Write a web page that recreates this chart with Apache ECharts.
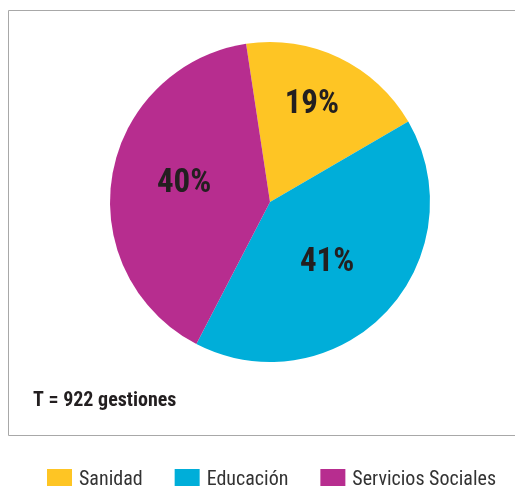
<!DOCTYPE html>
<html><head><meta charset="utf-8">
<script src="https://cdn.jsdelivr.net/npm/echarts@6/dist/echarts.min.js"></script>
<style>html,body{margin:0;padding:0;background:#fff}#c{width:515px;height:486px}</style>
</head><body><div id="c"></div>
<script>
var categories = ['Sanidad', 'Educación', 'Servicios Sociales'];
var values = [19, 41, 40];
var colors = ['#FEC524', '#00AED9', '#B72D8F'];
var totalText = 'T = 922 gestiones';
var FONT = '"Roboto Condensed", sans-serif';

var labelOffsets = [[6, -22], [-3, 4], [-4, -5]];
var data = categories.map(function (c, i) {
  return { name: c, value: values[i], itemStyle: { color: colors[i] }, label: { offset: labelOffsets[i] } };
});

var chart = echarts.init(document.getElementById('c'), null, { renderer: 'canvas' });
chart.setOption({
  animation: false,
  graphic: [
    { type: 'rect', shape: { x: 8.5, y: 10.5, width: 520, height: 425 }, style: { fill: 'none', stroke: '#a8a8a8', lineWidth: 1 }, z: 0 },
    { type: 'text', left: 33, top: 391, style: { text: totalText, font: 'bold 20px ' + FONT, fill: '#231F20' }, z: 10 }
  ],
  legend: {
    left: 42, top: 464, width: 480, itemWidth: 25, itemHeight: 21, itemGap: 32, icon: 'rect',
    textStyle: { fontFamily: FONT, fontSize: 20, color: '#333333', padding: [0, 0, 0, 2] },
    data: categories
  },
  series: [{
    type: 'pie', center: [270, 202], radius: 160, startAngle: 98.6, clockwise: true,
    label: { position: 'inside', formatter: '{c}%', fontFamily: FONT, fontWeight: 'bold', fontSize: 33, color: '#231F20' },
    labelLine: { show: false },
    itemStyle: { borderWidth: 0 },
    emphasis: { disabled: true },
    data: data
  }]
});
</script></body></html>
